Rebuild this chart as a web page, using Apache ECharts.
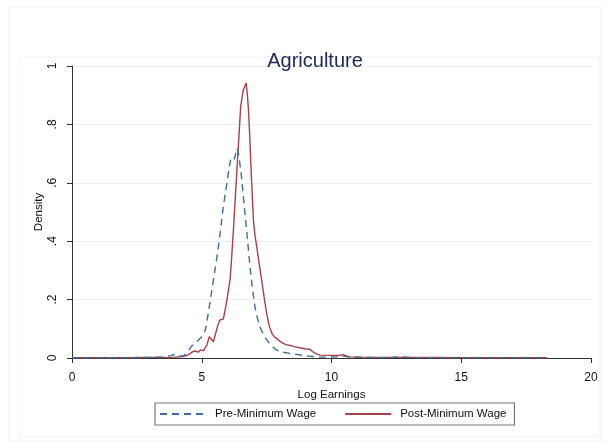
<!DOCTYPE html>
<html>
<head>
<meta charset="utf-8">
<script src="https://cdn.jsdelivr.net/npm/echarts@6/dist/echarts.min.js"></script>
<style>html,body{margin:0;padding:0;background:#fff}#c{width:608px;height:446px}</style>
</head>
<body>
<div id="c"></div>
<script>
const titleText = 'Agriculture';
const xName = 'Log Earnings';
const yName = 'Density';
const seriesNames = ['Pre-Minimum Wage', 'Post-Minimum Wage'];
const yTickLabels = {0: '0', 0.2: '.2', 0.4: '.4', 0.6: '.6', 0.8: '.8', 1: '1'};

const preX = [0,1,2,3,3.5,3.8,3.95,4.1,4.28,4.45,4.6,4.8,4.93,5.06,5.15,5.25,5.35,5.45,5.55,5.64,
  5.74,5.83,5.92,5.99,6.05,6.11,6.17,6.22,6.28,6.35,6.4,6.45,6.52,6.58,6.65,6.73,6.8,6.86,6.95,7.05,
  7.15,7.24,7.35,7.5,7.7,7.89,8.1,8.4,8.9,9.43,9.9,10.2,10.45,10.7,11.2,12,12.7,13.2,14,15,16,17,18.3];
const preY = [0.001,0.001,0.001,0.002,0.004,0.008,0.012,0.008,0.006,0.02,0.04,0.055,0.067,0.078,0.1,0.153,0.21,0.267,0.325,0.381,
  0.45,0.518,0.57,0.61,0.65,0.678,0.68,0.672,0.69,0.718,0.71,0.678,0.63,0.575,0.51,0.438,0.37,0.313,0.24,0.176,
  0.135,0.107,0.085,0.062,0.04,0.027,0.02,0.016,0.009,0.003,0.003,0.004,0.007,0.003,0.002,0.001,0.004,0.001,0.001,0.001,0.001,0.001,0.001];

const postX = [0,1,2,3,3.5,3.78,4.0,4.28,4.45,4.55,
  4.65,4.74,4.87,4.95,5.0,5.07,5.12,5.2,5.29,5.37,
  5.45,5.51,5.57,5.63,5.7,5.77,5.83,5.9,5.99,6.09,
  6.15,6.22,6.3,6.37,6.44,6.5,6.6,6.71,6.76,6.8,
  6.85,6.89,6.94,6.99,7.05,7.12,7.2,7.31,7.4,7.5,
  7.6,7.7,7.8,7.89,8.0,8.14,8.25,8.4,8.6,8.79,
  9.0,9.17,9.3,9.45,9.56,10.07,10.3,10.45,10.55,10.7,
  11.2,12,13,14,15,16,17,18.3];
const postY = [0.001,0.001,0.001,0.002,0.002,0.001,0.003,0.005,0.01,0.015,
  0.022,0.024,0.02,0.028,0.03,0.025,0.02,0.045,0.073,0.065,
  0.055,0.05,0.096,0.115,0.13,0.132,0.133,0.164,0.21,0.267,
  0.34,0.438,0.56,0.667,0.77,0.861,0.918,0.942,0.9,0.849,
  0.76,0.667,0.57,0.473,0.42,0.381,0.33,0.267,0.21,0.153,
  0.11,0.085,0.072,0.067,0.058,0.05,0.046,0.043,0.038,0.035,
  0.031,0.03,0.02,0.013,0.01,0.009,0.009,0.011,0.008,0.004,
  0.003,0.002,0.002,0.002,0.001,0.001,0.001,0.001];

const zip = (a, b) => a.map((v, i) => [v, b[i]]);
const FONT = 'Liberation Sans, Arial, sans-serif';

const chart = echarts.init(document.getElementById('c'), null, {renderer: 'canvas'});
chart.setOption({
  backgroundColor: '#fff',
  animation: false,
  graphic: [
    {type: 'rect', shape: {x: 9, y: 7, width: 592, height: 434}, style: {fill: 'none', stroke: '#eef1f1', lineWidth: 1}, silent: true},
    {type: 'rect', shape: {x: 19, y: 57, width: 580, height: 380}, style: {fill: 'none', stroke: '#f1f4f4', lineWidth: 1}, silent: true},
    {type: 'text', x: 39, y: 212, rotation: Math.PI / 2, silent: true,
     style: {text: yName, fontFamily: FONT, fontSize: 11.5, fill: '#111', align: 'center', verticalAlign: 'middle'}}
  ],
  title: {
    text: titleText, left: 310, top: 46, textAlign: 'center',
    textStyle: {fontFamily: FONT, fontSize: 20, fontWeight: 'normal', color: '#1c2b4f'}
  },
  legend: {
    left: 155, top: 403, width: 360,
    itemWidth: 46, itemHeight: 10, itemGap: 28,
    padding: [5, 8, 5, 4],
    borderColor: '#777', borderWidth: 1.2,
    itemStyle: {opacity: 0},
    textStyle: {fontFamily: FONT, fontSize: 11.5, color: '#111', padding: [0, 0, 0, 4]},
    data: seriesNames
  },
  grid: {left: 72, right: 17, top: 66, bottom: 88, containLabel: false},
  xAxis: {
    type: 'value', min: 0, max: 20, interval: 5,
    offset: 7,
    name: xName, nameLocation: 'middle', nameGap: 24,
    nameTextStyle: {fontFamily: FONT, fontSize: 11.5, color: '#111'},
    axisLine: {show: true, lineStyle: {color: '#333', width: 1}},
    axisTick: {show: true, length: 5, lineStyle: {color: '#333'}},
    axisLabel: {fontFamily: FONT, fontSize: 12, color: '#111', margin: 7},
    splitLine: {show: false}
  },
  yAxis: {
    type: 'value', min: 0, max: 1, interval: 0.2,
    offset: 7,
    axisLine: {show: true, lineStyle: {color: '#333', width: 1}},
    axisTick: {show: true, length: 5, lineStyle: {color: '#333'}},
    axisLabel: {
      fontFamily: FONT, fontSize: 12, color: '#111', rotate: 90, margin: 6,
      formatter: v => yTickLabels[Math.round(v * 10) / 10] ?? ''
    },
    splitLine: {show: true, lineStyle: {color: '#e8f0f1', width: 1}}
  },
  series: [
    {
      name: seriesNames[0], type: 'line', data: zip(preX, preY),
      symbol: 'none', smooth: false, z: 3,
      lineStyle: {color: '#3f6e9a', width: 1.4, type: [7, 5]},
      itemStyle: {color: '#3f6e9a'}
    },
    {
      name: seriesNames[1], type: 'line', data: zip(postX, postY),
      symbol: 'none', smooth: false, z: 2,
      lineStyle: {color: '#a8404a', width: 1.4},
      itemStyle: {color: '#a8404a'}
    }
  ]
});
</script>
</body>
</html>
